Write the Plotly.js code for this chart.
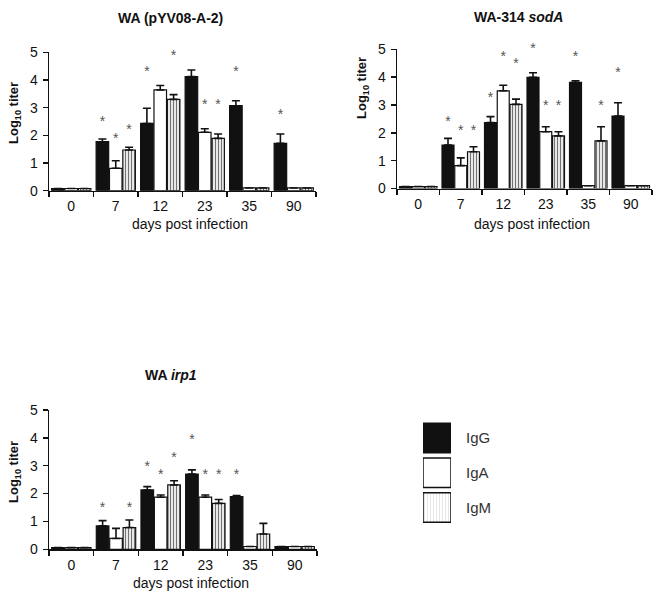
<!DOCTYPE html>
<html>
<head>
<meta charset="utf-8">
<script src="https://cdn.plot.ly/plotly-3.0.1.min.js"></script>
<style>html,body{margin:0;padding:0;background:#fff}#chart{width:661px;height:597px}</style>
</head>
<body>
<div id="chart"></div>
<script>
// ---------- data ----------
const days = ['0', '7', '12', '23', '35', '90'];
const seriesNames = ['IgG', 'IgA', 'IgM'];

// Panel A: WA (pYV08-A-2)
const A_IgG = [0.08, 1.77, 2.43, 4.12, 3.07, 1.71];
const A_IgG_err = [0, 0.10, 0.55, 0.24, 0.18, 0.34];
const A_IgA = [0.08, 0.81, 3.64, 2.11, 0.10, 0.10];
const A_IgA_err = [0, 0.27, 0.16, 0.13, 0, 0];
const A_IgM = [0.08, 1.47, 3.30, 1.89, 0.10, 0.10];
const A_IgM_err = [0, 0.10, 0.17, 0.16, 0, 0];
const A_IgG_star = [null, 2.46, 4.27, 5.13, 4.27, 2.73];
const A_IgA_star = [null, 1.86, 5.13, 3.06, null, null];
const A_IgM_star = [null, 2.16, 4.84, 3.06, null, null];

// Panel B: WA-314 sodA
const B_IgG = [0.07, 1.56, 2.37, 3.99, 3.81, 2.60];
const B_IgG_err = [0, 0.24, 0.21, 0.17, 0.06, 0.48];
const B_IgA = [0.07, 0.82, 3.51, 2.04, 0.10, 0.10];
const B_IgA_err = [0, 0.28, 0.20, 0.18, 0, 0];
const B_IgM = [0.07, 1.32, 3.02, 1.89, 1.71, 0.10];
const B_IgM_err = [0, 0.18, 0.19, 0.15, 0.51, 0];
const B_IgG_star = [null, 2.37, 3.24, 5.00, 4.71, 4.14];
const B_IgA_star = [null, 2.04, 4.71, 2.94, null, null];
const B_IgM_star = [null, 2.04, 4.44, 2.94, 2.94, null];

// Panel C: WA irp1
const C_IgG = [0.06, 0.84, 2.13, 2.70, 1.89, 0.10];
const C_IgG_err = [0, 0.19, 0.12, 0.15, 0.04, 0];
const C_IgA = [0.06, 0.39, 1.87, 1.87, 0.10, 0.10];
const C_IgA_err = [0, 0.36, 0.08, 0.08, 0, 0];
const C_IgM = [0.06, 0.78, 2.31, 1.65, 0.55, 0.10];
const C_IgM_err = [0, 0.27, 0.15, 0.14, 0.38, 0];
const C_IgG_star = [null, 1.47, 2.93, 3.89, 2.64, null];
const C_IgA_star = [null, null, 2.64, 2.64, null, null];
const C_IgM_star = [null, 1.47, 3.27, 2.64, null, null];

const panelTitles = ['WA (pYV08-A-2)', 'WA-314 <i>sodA</i>', 'WA <i>irp1</i>'];
const xTitle = 'days post infection';
const yTitle = 'Log<sub>10</sub> titer';

// ---------- styling ----------
const FONT = '"Liberation Sans", Arial, sans-serif';
const INK = '#111';
const bargap = 0.1;
const slot = (1 - bargap) / 3;
const styles = [
  {color: '#111111', pattern: {shape: ''}},
  {color: '#ffffff', pattern: {shape: ''}},
  {color: '#e6e6e6', pattern: {shape: '|', fgcolor: '#707070', bgcolor: '#e8e8e8', size: 3, solidity: 0.33}}
];
const idx = days.map((d, i) => i);
const bounds = days.map((d, i) => i - 0.5).concat([days.length - 0.5]);

const panels = [
  {xa: 'x', ya: 'y', vals: [A_IgG, A_IgA, A_IgM], errs: [A_IgG_err, A_IgA_err, A_IgM_err], stars: [A_IgG_star, A_IgA_star, A_IgM_star]},
  {xa: 'x2', ya: 'y2', vals: [B_IgG, B_IgA, B_IgM], errs: [B_IgG_err, B_IgA_err, B_IgM_err], stars: [B_IgG_star, B_IgA_star, B_IgM_star]},
  {xa: 'x3', ya: 'y3', vals: [C_IgG, C_IgA, C_IgM], errs: [C_IgG_err, C_IgA_err, C_IgM_err], stars: [C_IgG_star, C_IgA_star, C_IgM_star]}
];

const traces = [];
panels.forEach(p => {
  p.vals.forEach((v, k) => {
    traces.push({
      type: 'bar', x: idx, y: v, name: seriesNames[k], xaxis: p.xa, yaxis: p.ya,
      showlegend: false, hoverinfo: 'skip',
      marker: {color: styles[k].color, pattern: styles[k].pattern, line: {color: INK, width: 1.2}},
      error_y: {type: 'data', symmetric: false, array: p.errs[k], arrayminus: p.errs[k].map(() => 0),
                color: INK, thickness: 1.6, width: 4}
    });
  });
  p.stars.forEach((s, k) => {
    const keep = idx.filter(i => s[i] !== null);
    traces.push({
      type: 'scatter', mode: 'text', x: keep.map(i => i + (k - 1) * slot), y: keep.map(i => s[i]),
      text: keep.map(() => '*'), textposition: 'middle center',
      textfont: {family: FONT, size: 14, color: '#555'}, cliponaxis: false,
      xaxis: p.xa, yaxis: p.ya, showlegend: false, hoverinfo: 'skip'
    });
  });
});

// legend drawn as a small bar subplot
traces.push({
  type: 'bar', orientation: 'h', y: seriesNames, x: seriesNames.map(() => 1),
  xaxis: 'x4', yaxis: 'y4', showlegend: false, hoverinfo: 'skip',
  marker: {color: styles.map(s => s.color),
           pattern: {shape: styles.map(s => s.pattern.shape), fgcolor: '#707070', bgcolor: '#e8e8e8', size: 3, solidity: 0.33},
           line: {color: INK, width: 1.5}}
});

function xax(domain, anchor) {
  return {domain: domain, anchor: anchor, range: [-0.5, days.length - 0.5], tickmode: 'array',
    tickvals: idx, ticktext: days, ticks: '', showline: true, linecolor: INK, linewidth: 1.5,
    zeroline: false, showgrid: false, fixedrange: true, ticklabelstandoff: 2,
    tickfont: {family: FONT, size: 14, color: INK},
    minor: {tickmode: 'array', tickvals: bounds, ticks: 'outside', ticklen: 5, tickwidth: 1.5, tickcolor: INK, showgrid: false}};
}
function yax(domain, anchor) {
  return {domain: domain, anchor: anchor, range: [0, 5], dtick: 1, tick0: 0, ticks: 'outside', ticklen: 5,
    tickwidth: 1.5, tickcolor: INK, showline: true, linecolor: INK, linewidth: 1.5, zeroline: false,
    showgrid: false, fixedrange: true, ticklabelstandoff: 2, tickfont: {family: FONT, size: 14, color: INK}};
}

const W = 661, H = 597;
const px = v => v / W, py = v => 1 - v / H;

const ann = [];
const titlePos = [[170, 18], [518, 17], [171, 375]];
panelTitles.forEach((t, i) => ann.push({text: '<b>' + t + '</b>', x: px(titlePos[i][0]), y: py(titlePos[i][1]),
  xref: 'paper', yref: 'paper', xanchor: 'center', yanchor: 'middle', showarrow: false,
  font: {family: FONT, size: 14, color: INK}}));
[[190, 224], [532, 224], [191, 583]].forEach(p => ann.push({text: xTitle, x: px(p[0]), y: py(p[1]),
  xref: 'paper', yref: 'paper', xanchor: 'center', yanchor: 'middle', showarrow: false,
  font: {family: FONT, size: 14, color: INK}}));
[[14, 113], [362, 88], [14, 472]].forEach(p => ann.push({text: '<b>' + yTitle + '</b>', x: px(p[0]), y: py(p[1]),
  xref: 'paper', yref: 'paper', xanchor: 'center', yanchor: 'middle', showarrow: false, textangle: -90,
  font: {family: FONT, size: 13, color: INK}}));

const layout = {
  width: W, height: H, margin: {l: 0, r: 0, t: 0, b: 0},
  paper_bgcolor: '#fff', plot_bgcolor: 'rgba(0,0,0,0)', showlegend: false,
  barmode: 'group', bargap: bargap, bargroupgap: 0.06,
  xaxis: xax([px(49), px(316)], 'y'), yaxis: yax([py(190.7), py(52.3)], 'x'),
  xaxis2: xax([px(397), px(652)], 'y2'), yaxis2: yax([py(188.5), py(49.3)], 'x2'),
  xaxis3: xax([px(49), px(317)], 'y3'), yaxis3: yax([py(549.3), py(410)], 'x3'),
  xaxis4: {domain: [px(423), px(451)], anchor: 'y4', range: [0, 1], visible: false, fixedrange: true},
  yaxis4: {domain: [py(524.9), py(420.6)], anchor: 'x4', type: 'category', autorange: 'reversed', side: 'right',
    showline: false, ticks: '', showgrid: false, zeroline: false, ticklabelstandoff: 14, fixedrange: true,
    tickfont: {family: FONT, size: 15, color: '#333'}},
  annotations: ann
};

Plotly.newPlot('chart', traces, layout, {displayModeBar: false, staticPlot: true});
</script>
</body>
</html>
